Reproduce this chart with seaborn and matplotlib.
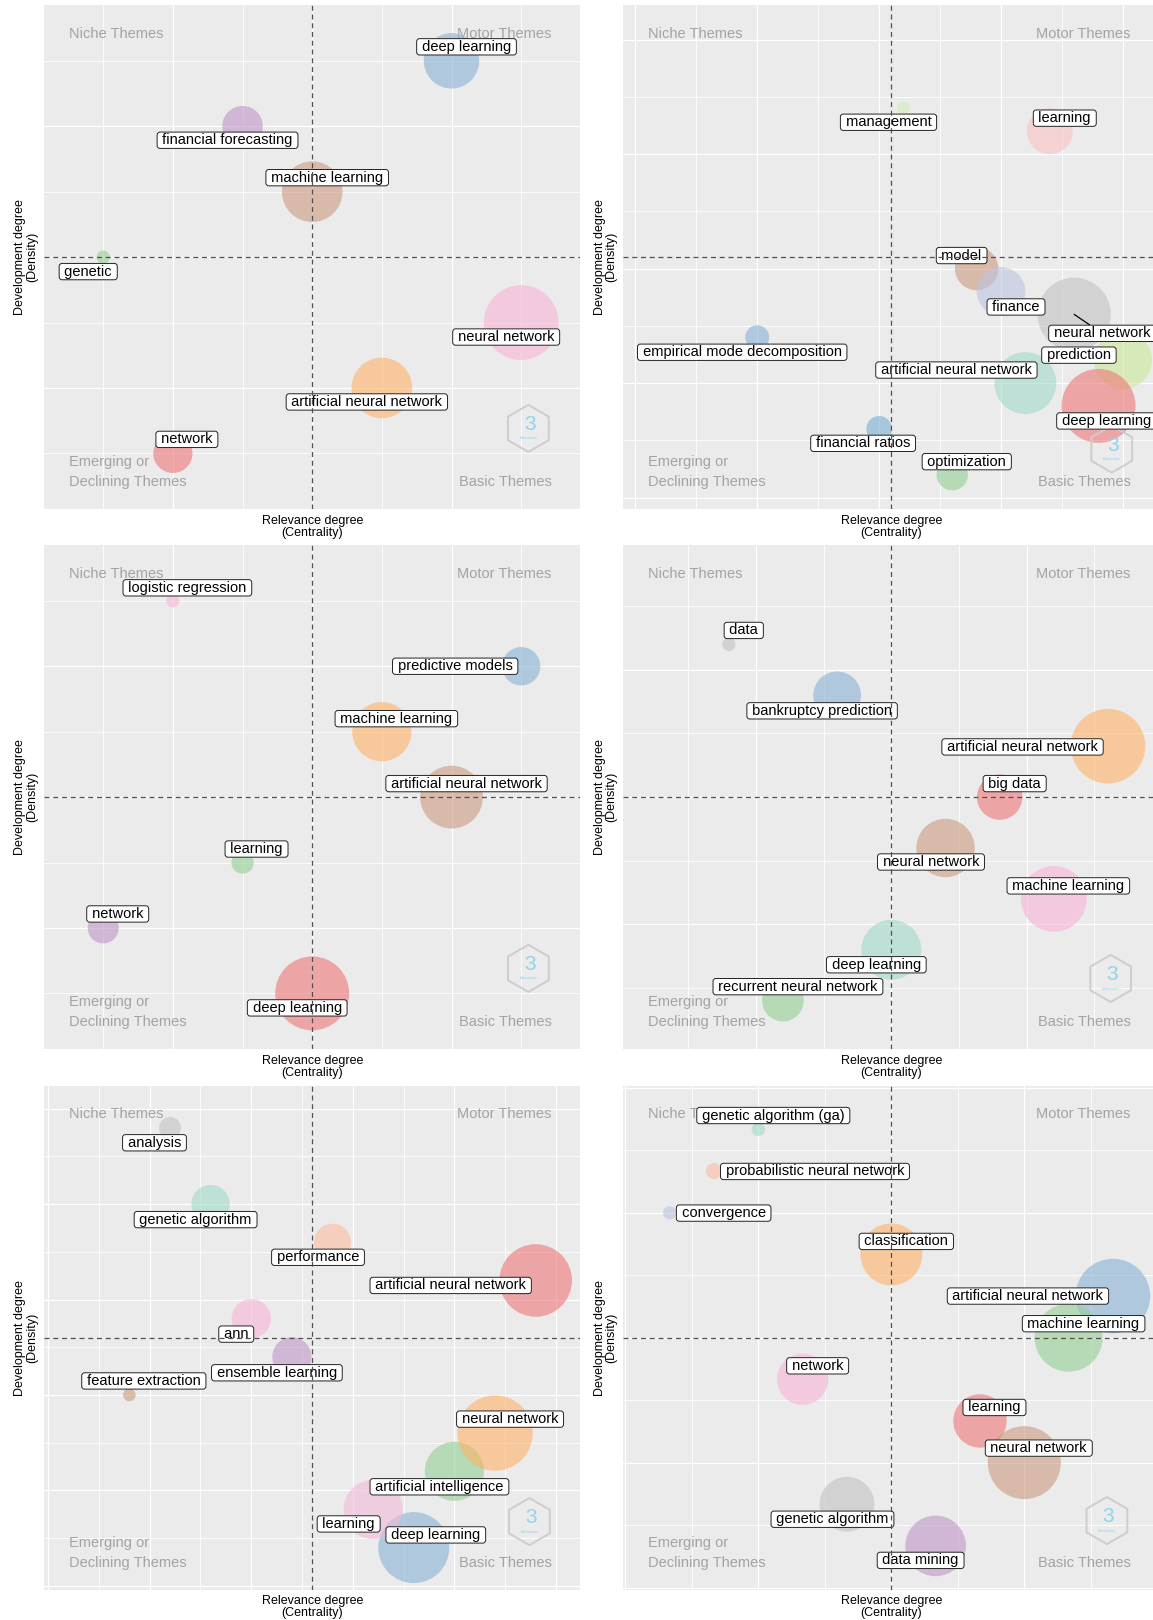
import numpy as np
import pandas as pd
import matplotlib
matplotlib.use("Agg")
import matplotlib.pyplot as plt
import matplotlib.colors as mcolors
import seaborn as sns
from matplotlib.ticker import MultipleLocator

# ------------------------------------------------------------------ data
# Panel 1
p1_labels = ["network", "deep learning", "genetic", "financial forecasting",
             "artificial neural network", "machine learning", "neural network"]
p1_centrality = [2, 6, 1, 3, 5, 4, 7]
p1_density = [1, 7, 4, 6, 2, 5, 3]
p1_freq = [96, 192, 11, 103, 230, 230, 350]
p1_mean = (4, 4)

# Panel 2
p2_labels = ["learning", "management", "model", "finance", "neural network",
             "empirical mode decomposition", "prediction", "artificial neural network",
             "deep learning", "financial ratios", "optimization"]
p2_centrality = [17, 11, 14, 15, 18, 5, 20, 16, 19, 10, 13]
p2_density = [16, 17, 10, 9, 8, 7, 6, 5, 4, 3, 1]
p2_freq = [132, 11, 118, 148, 337, 36, 210, 240, 342, 41, 62]
p2_mean = (10.5, 10.5)

# Panel 3
p3_labels = ["deep learning", "predictive models", "learning", "network",
             "machine learning", "artificial neural network", "logistic regression"]
p3_centrality = [4, 7, 3, 1, 5, 6, 2]
p3_density = [1, 6, 3, 2, 5, 4, 7]
p3_freq = [342, 92, 31, 60, 219, 246, 11]
p3_mean = (4, 4)

# Panel 4
p4_labels = ["big data", "bankruptcy prediction", "recurrent neural network",
             "artificial neural network", "neural network", "machine learning",
             "data", "deep learning"]
p4_centrality = [7, 4, 3, 9, 6, 8, 2, 5]
p4_density = [5, 7, 1, 6, 4, 3, 8, 2]
p4_freq = [129, 142, 108, 348, 213, 271, 11, 225]
p4_mean = (5, 5)

# Panel 5
p5_labels = ["artificial neural network", "deep learning", "artificial intelligence",
             "ensemble learning", "neural network", "feature extraction", "ann",
             "analysis", "genetic algorithm", "performance", "learning"]
p5_centrality = [12, 9, 10, 6, 11, 2, 5, 3, 4, 7, 8]
p5_density = [8, 1, 3, 6, 4, 5, 7, 12, 10, 9, 2]
p5_freq = [329, 315, 219, 96, 355, 10, 96, 30, 92, 86, 219]
p5_mean = (6.5, 6.5)

# Panel 6
p6_labels = ["learning", "artificial neural network", "machine learning", "data mining",
             "classification", "neural network", "network", "genetic algorithm",
             "genetic algorithm (ga)", "probabilistic neural network", "convergence"]
p6_centrality = [8, 11, 10, 7, 6, 9, 4, 5, 3, 2, 1]
p6_density = [4, 7, 6, 1, 8, 3, 5, 2, 11, 10, 9]
p6_freq = [178, 348, 289, 230, 240, 333, 164, 188, 11, 16, 11]
p6_mean = (6, 6)

quadrant_text = ["Niche Themes", "Motor Themes", "Emerging or", "Declining Themes", "Basic Themes"]
x_title = "Relevance degree\n(Centrality)"
y_title = "Development degree\n(Density)"

# ------------------------------------------------------------------ styles / layout
RED, BLUE, GREEN, PURPLE, ORANGE, BROWN, PINK, GRAY = (
    "#E41A1C", "#377EB8", "#4DAF4A", "#984EA3", "#FF7F00", "#A65628", "#F781BF", "#999999")
TEAL, SALMON, LAVENDER, SET2PINK, LIME = "#66C2A5", "#FC8D62", "#8DA0CB", "#E78AC3", "#A6D854"

p1_colors = [RED, BLUE, GREEN, PURPLE, ORANGE, BROWN, PINK]
p2_colors = ["#FB9A99", "#B2DF8A", BROWN, LAVENDER, GRAY, BLUE, LIME, TEAL, RED, "#1F78B4", GREEN]
p3_colors = [RED, BLUE, GREEN, PURPLE, ORANGE, BROWN, PINK]
p4_colors = [RED, BLUE, GREEN, ORANGE, BROWN, PINK, GRAY, TEAL]
p5_colors = [RED, BLUE, GREEN, PURPLE, ORANGE, BROWN, PINK, GRAY, TEAL, SALMON, SET2PINK]
p6_colors = [RED, BLUE, GREEN, PURPLE, ORANGE, BROWN, PINK, GRAY, TEAL, SALMON, LAVENDER]

# label offsets (pixels, from bubble centre to label centre)
p1_off = [(14, 14), (15, 14), (-15, -14.5), (-15, -14), (-15, -14), (15, 14), (-15, -14.5)]
p2_off = [(15, 13), (-15, -14), (-15, 13), (15, -15.5), (28, -19), (-15, -15),
          (-44, 5), (-69, 13), (8, -15), (-16, -14.5), (14.5, 13)]
p3_off = [(-15, -14.5), (-66, 0), (14, 13.5), (14.5, 14), (14.5, 13), (15, 13.5), (14.5, 13)]
p4_off = [(15, 13.5), (-15, -15.5), (15, 14), (-85.5, -0.7), (-14.5, -14), (14.5, 13),
          (15, 14), (-15, -15)]
p5_off = [(-85, -5), (22, 12.7), (-15, -15.5), (-15, -16), (15, 14), (14.5, 14), (-15, -15.5),
          (-15.5, -15), (-15, -15.5), (-14.5, -15), (-24.5, -14.5)]
p6_off = [(14.5, 13.5), (-85, 0), (15, 14), (-15, -14.5), (15, 13), (14.5, 14.5), (15, 13.5),
          (-14.5, -15), (15, 14), (101, -0.3), (54, -0.3)]

DPI = 100
W, H = 1153, 1620
ALPHA = 0.6
TINT = 0.4
SIZE_K = 4 * (2 * 72 / DPI) ** 2     # freq -> marker area (pt^2)
LABEL_FS = 10.5
QUAD_FS = 10.5
AXIS_FS = 9


def pastel(c):
    rgb = np.array(mcolors.to_rgb(c))
    return tuple(rgb * (1 - TINT) + TINT)


sns.set_theme(style="darkgrid")
plt.rcParams["font.family"] = ["Liberation Sans", "DejaVu Sans"]

fig = plt.figure(figsize=(W / DPI, H / DPI), dpi=DPI, facecolor="white")

col_left = [44.0, 623.1]
row_top = [5.2, 545.2, 1085.8]
pw, ph = 536.4, 503.8


def make_ax(r, c):
    l, t = col_left[c], row_top[r]
    return fig.add_axes([l / W, 1 - (t + ph) / H, pw / W, ph / H])


def draw_panel(ax, labels, cen, den, freq, colors, mean, offsets, steps, logo,
               segments=()):
    df = pd.DataFrame({"label": labels, "centrality": cen, "density": den, "freq": freq})
    mx, my = mean
    hx = 1.1 * (np.max(np.abs(df["centrality"] - mx)) + 0.5)
    hy = 1.1 * (np.max(np.abs(df["density"] - my)) + 0.5)
    ax.set_facecolor("#EBEBEB")
    sns.scatterplot(data=df, x="centrality", y="density", hue="label",
                    palette=dict(zip(labels, [pastel(c) for c in colors])),
                    s=list(df["freq"] * SIZE_K),
                    alpha=ALPHA, linewidth=0, legend=False, ax=ax, zorder=3)
    ax.set_xlim(mx - hx, mx + hx)
    ax.set_ylim(my - hy, my + hy)
    for axis in (ax.xaxis, ax.yaxis):
        axis.set_major_locator(MultipleLocator(steps[0]))
        axis.set_minor_locator(MultipleLocator(steps[1]))
    ax.set_axisbelow(True)
    ax.grid(which="major", color="white", lw=0.9)
    ax.grid(which="minor", color="white", lw=0.6)
    ax.tick_params(which="both", length=0, labelbottom=False, labelleft=False)
    for sp in ax.spines.values():
        sp.set_visible(False)
    ax.set_xlabel(x_title, fontsize=AXIS_FS, linespacing=1.0, labelpad=4, color="black")
    ax.set_ylabel(y_title, fontsize=AXIS_FS, linespacing=1.0, labelpad=4, color="black")

    # quadrant names
    qc = "#A3A3A3"
    ax.text(0.047, 0.9435, quadrant_text[0], transform=ax.transAxes, ha="left", va="center",
            fontsize=QUAD_FS, color=qc, zorder=2)
    ax.text(0.946, 0.9435, quadrant_text[1], transform=ax.transAxes, ha="right", va="center",
            fontsize=QUAD_FS, color=qc, zorder=2)
    ax.text(0.047, 0.093, quadrant_text[2], transform=ax.transAxes, ha="left", va="center",
            fontsize=QUAD_FS, color=qc, zorder=2)
    ax.text(0.047, 0.053, quadrant_text[3], transform=ax.transAxes, ha="left", va="center",
            fontsize=QUAD_FS, color=qc, zorder=2)
    ax.text(0.946, 0.053, quadrant_text[4], transform=ax.transAxes, ha="right", va="center",
            fontsize=QUAD_FS, color=qc, zorder=2)

    # logo
    lx, ly = logo
    ax.scatter([lx], [ly], transform=ax.transAxes, marker="h", s=1150,
               facecolors="none", edgecolors="#CDCDCD", linewidths=1.4, zorder=4)
    ax.text(lx + 0.003, ly + 0.008, "3", transform=ax.transAxes, ha="center", va="center",
            fontsize=15, color="#8FD3EC", zorder=4)
    ax.text(lx, ly - 0.02, "bibliometrix", transform=ax.transAxes, ha="center",
            va="center", fontsize=2.5, color="#8FD3EC", zorder=4)

    # labels
    for i, row in df.iterrows():
        kw = {}
        if row["label"] in segments:
            kw["arrowprops"] = dict(arrowstyle="-", lw=0.9, color="black",
                                    shrinkA=0, shrinkB=0)
        ax.annotate(" " + row["label"] + " ", xy=(row["centrality"], row["density"]),
                    xytext=offsets[i], textcoords="offset pixels", ha="center",
                    va="center", fontsize=LABEL_FS, color="black", zorder=5,
                    annotation_clip=False,
                    bbox=dict(boxstyle="round,pad=0.08,rounding_size=0.2", fc="white",
                              ec="#222222", lw=0.7), **kw)

    # mean lines on top
    ax.axvline(mx, color="#505050", lw=0.9, dashes=(4, 3), zorder=6)
    ax.axhline(my, color="#505050", lw=0.9, dashes=(4, 3), zorder=6)


draw_panel(make_ax(0, 0), p1_labels, p1_centrality, p1_density, p1_freq, p1_colors,
           p1_mean, p1_off, (2, 1), (0.903, 0.160))
draw_panel(make_ax(0, 1), p2_labels, p2_centrality, p2_density, p2_freq, p2_colors,
           p2_mean, p2_off, (5, 2.5), (0.911, 0.119), segments=("neural network",))
draw_panel(make_ax(1, 0), p3_labels, p3_centrality, p3_density, p3_freq, p3_colors,
           p3_mean, p3_off, (2, 1), (0.903, 0.160))
draw_panel(make_ax(1, 1), p4_labels, p4_centrality, p4_density, p4_freq, p4_colors,
           p4_mean, p4_off, (2.5, 1.25), (0.909, 0.140))
draw_panel(make_ax(2, 0), p5_labels, p5_centrality, p5_density, p5_freq, p5_colors,
           p5_mean, p5_off, (2.5, 1.25), (0.905, 0.135))
draw_panel(make_ax(2, 1), p6_labels, p6_centrality, p6_density, p6_freq, p6_colors,
           p6_mean, p6_off, (3, 1.5), (0.902, 0.137))

fig.savefig("out.png", dpi=DPI, facecolor="white")
